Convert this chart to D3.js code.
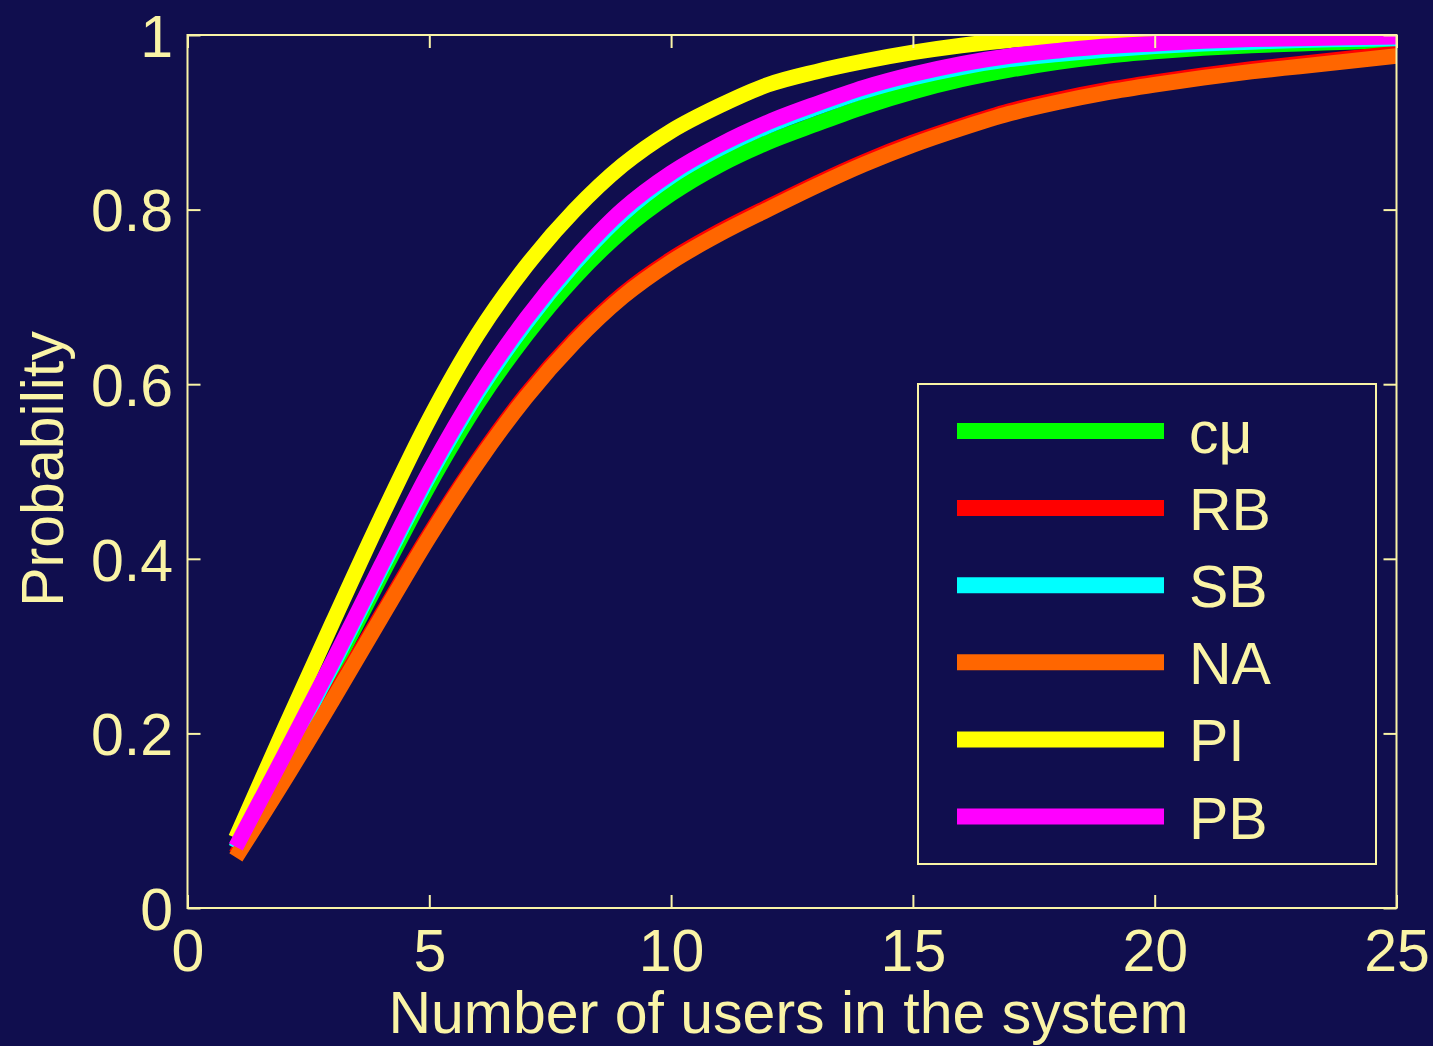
<!DOCTYPE html>
<html>
<head>
<meta charset="utf-8">
<script src="https://cdn.jsdelivr.net/npm/d3@7"></script>
<style>
  html, body { margin: 0; padding: 0; background: #100E4E; }
  svg { display: block; }
  text { font-family: "Liberation Sans", Arial, Helvetica, sans-serif; }
</style>
</head>
<body>
<script>
// Number of users in the system (x) at which each CDF is sampled
const users = [1, 2, 3, 4, 5, 6, 7, 8, 9, 10, 11, 12, 13, 14, 15, 16, 17, 18, 19, 20, 21, 22, 23, 24, 25];

// Cumulative probability per scheduling policy
const cmu = [0.068, 0.168, 0.272, 0.38, 0.485, 0.578, 0.656, 0.722, 0.776, 0.818, 0.851, 0.877, 0.898, 0.918, 0.935, 0.949, 0.96, 0.969, 0.976, 0.981, 0.985, 0.988, 0.99, 0.992, 0.994];
const rb  = [0.061, 0.149, 0.241, 0.335, 0.428, 0.513, 0.588, 0.651, 0.703, 0.743, 0.775, 0.803, 0.83, 0.855, 0.877, 0.896, 0.913, 0.926, 0.937, 0.946, 0.954, 0.961, 0.967, 0.973, 0.979];
const sb  = [0.068, 0.171, 0.278, 0.388, 0.495, 0.59, 0.67, 0.738, 0.795, 0.838, 0.87, 0.896, 0.917, 0.936, 0.951, 0.963, 0.972, 0.978, 0.983, 0.987, 0.99, 0.992, 0.994, 0.995, 0.996];
const na  = [0.058, 0.146, 0.238, 0.332, 0.425, 0.51, 0.585, 0.648, 0.70, 0.74, 0.772, 0.80, 0.827, 0.852, 0.874, 0.893, 0.91, 0.923, 0.934, 0.943, 0.951, 0.958, 0.964, 0.97, 0.976];
const pi  = [0.08, 0.205, 0.327, 0.447, 0.56, 0.657, 0.735, 0.799, 0.851, 0.89, 0.919, 0.943, 0.958, 0.970, 0.980, 0.988, 0.994, 0.998, 1, 1, 1, 1, 1, 1, 1];
const pb  = [0.07, 0.175, 0.282, 0.392, 0.50, 0.595, 0.675, 0.743, 0.80, 0.842, 0.874, 0.90, 0.921, 0.94, 0.955, 0.967, 0.976, 0.982, 0.987, 0.99, 0.993, 0.995, 0.996, 0.997, 0.998];

const seriesNames  = ["c\u03BC", "RB", "SB", "NA", "PI", "PB"];
const seriesValues = [cmu, rb, sb, na, pi, pb];
const seriesColors = ["#00FF00", "#FF0000", "#00FFFF", "#FF6600", "#FFFF00", "#FF00FF"];

const xTicks = [0, 5, 10, 15, 20, 25];
const yTicks = [0, 0.2, 0.4, 0.6, 0.8, 1];
const yTickLabels = ["0", "0.2", "0.4", "0.6", "0.8", "1"];

const W = 1433, H = 1046;
const bg = "#100E4E";
const fg = "#FAF4A6";
const fontSize = 59;
const plot = { left: 187.5, right: 1396.5, top: 35, bottom: 908 };

const svg = d3.select("body").append("svg")
  .attr("width", W).attr("height", H)
  .attr("viewBox", `0 0 ${W} ${H}`);

svg.append("rect").attr("width", W).attr("height", H).attr("fill", bg);

const x = d3.scaleLinear().domain([0, 25]).range([plot.left, plot.right]);
const y = d3.scaleLinear().domain([0, 1]).range([plot.bottom, plot.top]);

// clip the thick curves to the axes box
svg.append("defs").append("clipPath").attr("id", "plotClip")
  .append("rect")
  .attr("x", plot.left).attr("y", plot.top)
  .attr("width", plot.right - plot.left).attr("height", plot.bottom - plot.top);

const line = d3.line()
  .x((d, i) => x(users[i]))
  .y(d => y(d))
  .curve(d3.curveMonotoneX);

const curves = svg.append("g").attr("clip-path", "url(#plotClip)");
seriesValues.forEach((vals, k) => {
  curves.append("path")
    .attr("d", line(vals))
    .attr("fill", "none")
    .attr("stroke", seriesColors[k])
    .attr("stroke-width", 15.5)
    .attr("stroke-linejoin", "round");
});

// axes with inward ticks on all four sides
const tickLen = 13;
function styleAxis(g) {
  g.select(".domain").remove();
  g.selectAll(".tick line").attr("stroke", fg).attr("stroke-width", 2);
  g.selectAll(".tick text")
    .attr("fill", fg)
    .attr("font-size", fontSize)
    .attr("font-family", "'Liberation Sans', Arial, sans-serif");
}

svg.append("g")
  .attr("transform", `translate(0,${plot.bottom})`)
  .call(d3.axisBottom(x).tickValues(xTicks).tickSize(-tickLen).tickPadding(21).tickFormat(d3.format("d")))
  .call(styleAxis);

svg.append("g")
  .attr("transform", `translate(0,${plot.top})`)
  .call(d3.axisTop(x).tickValues(xTicks).tickSize(-tickLen).tickFormat(""))
  .call(styleAxis);

svg.append("g")
  .attr("transform", `translate(${plot.left},0)`)
  .call(d3.axisLeft(y).tickValues(yTicks).tickSize(-tickLen).tickPadding(14.5)
    .tickFormat((d, i) => yTickLabels[i]))
  .call(styleAxis)
  .call(g => g.selectAll(".tick text").attr("dy", "0.36em"));

svg.append("g")
  .attr("transform", `translate(${plot.right},0)`)
  .call(d3.axisRight(y).tickValues(yTicks).tickSize(-tickLen).tickFormat(""))
  .call(styleAxis);

// axes box
svg.append("rect")
  .attr("x", plot.left).attr("y", plot.top)
  .attr("width", plot.right - plot.left).attr("height", plot.bottom - plot.top)
  .attr("fill", "none").attr("stroke", fg).attr("stroke-width", 2);

// axis titles
svg.append("text")
  .attr("x", 788.5)
  .attr("y", 1033)
  .attr("text-anchor", "middle")
  .attr("fill", fg).attr("font-size", fontSize)
  .text("Number of users in the system");

svg.append("text")
  .attr("transform", "translate(63,469) rotate(-90)")
  .attr("text-anchor", "middle")
  .attr("fill", fg).attr("font-size", fontSize)
  .text("Probability");

// legend
const legend = { x: 918, y: 384, w: 458, h: 480, first: 431, step: 77.1 };
const lg = svg.append("g");
lg.append("rect")
  .attr("x", legend.x).attr("y", legend.y)
  .attr("width", legend.w).attr("height", legend.h)
  .attr("fill", bg).attr("stroke", fg).attr("stroke-width", 2);

seriesNames.forEach((name, k) => {
  const ly = legend.first + k * legend.step;
  lg.append("line")
    .attr("x1", 957).attr("x2", 1164)
    .attr("y1", ly).attr("y2", ly)
    .attr("stroke", seriesColors[k]).attr("stroke-width", 16);
  lg.append("text")
    .attr("x", 1189).attr("y", ly + 22)
    .attr("fill", fg).attr("font-size", fontSize)
    .text(name);
});
</script>
</body>
</html>
